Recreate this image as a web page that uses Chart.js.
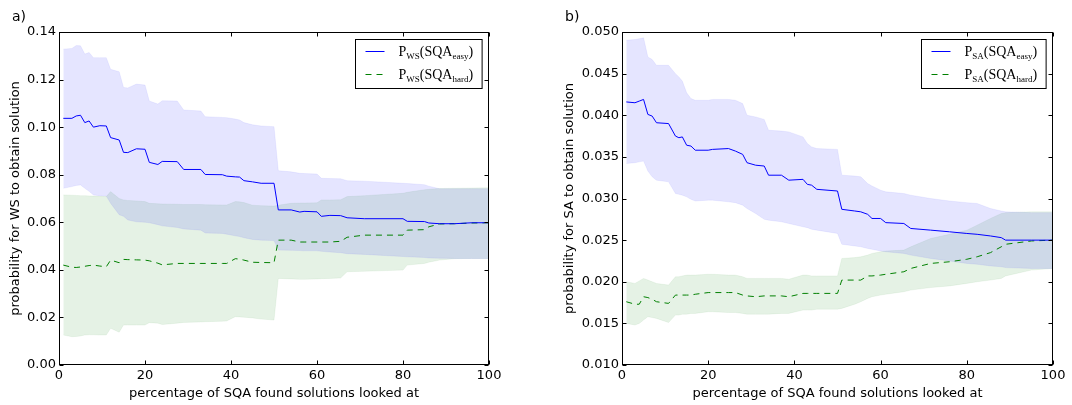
<!DOCTYPE html>
<html>
<head>
<meta charset="utf-8">
<script src="https://cdn.jsdelivr.net/npm/chart.js@4.4.1/dist/chart.umd.min.js"></script>
<style>
  body { margin: 0; background: #fff; }
  .panel { position: absolute; top: 0; width: 536px; height: 405px; }
</style>
</head>
<body>
<div class="panel" style="left:0"><canvas id="chartA" width="536" height="405"></canvas></div>
<div class="panel" style="left:536px"><canvas id="chartB" width="536" height="405"></canvas></div>
<script>
// ---- panel a) : WS ----
const xA = [1, 3, 4, 5, 6, 7, 8, 9.5, 11, 12, 14, 15, 16, 18, 20, 21, 23, 24, 27.5, 29,
    33, 34, 38, 39, 41, 42, 43, 45, 47, 50, 51, 54, 56, 57, 60, 61, 63, 65.5, 67, 71,
    80, 81, 85, 86, 88.5, 92, 96, 100];
const easyA = [0.1037, 0.1037, 0.1047, 0.1050, 0.1019, 0.1026, 0.1000, 0.1006, 0.1005, 0.0956,
    0.0946, 0.0894, 0.0893, 0.0909, 0.0907, 0.0852, 0.0843, 0.0856, 0.0855, 0.0822,
    0.0822, 0.0801, 0.0800, 0.0794, 0.0791, 0.0790, 0.0775, 0.0770, 0.0764, 0.0764,
    0.0652, 0.0652, 0.0643, 0.0646, 0.0644, 0.0625, 0.0629, 0.0628, 0.0619, 0.0615,
    0.0615, 0.0604, 0.0603, 0.0597, 0.0594, 0.0594, 0.0598, 0.0598];
const easyHiA = [0.1328, 0.1331, 0.1343, 0.1342, 0.1307, 0.1314, 0.1292, 0.1292, 0.1292, 0.1243,
    0.1233, 0.1167, 0.1165, 0.1181, 0.1177, 0.1110, 0.1097, 0.1111, 0.1110, 0.1072,
    0.1068, 0.1044, 0.1041, 0.1040, 0.1034, 0.1030, 0.1019, 0.1010, 0.1005, 0.1002,
    0.0817, 0.0812, 0.0806, 0.0805, 0.0803, 0.0785, 0.0784, 0.0783, 0.0775, 0.0773,
    0.0764, 0.0763, 0.0758, 0.0752, 0.0741, 0.0741, 0.0741, 0.0741];
const easyLoA = [0.0743, 0.0750, 0.0755, 0.0757, 0.0743, 0.0730, 0.0715, 0.0712, 0.0710, 0.0680,
    0.0632, 0.0625, 0.0610, 0.0602, 0.0600, 0.0598, 0.0590, 0.0585, 0.0578, 0.0572,
    0.0567, 0.0555, 0.0553, 0.0550, 0.0543, 0.0540, 0.0535, 0.0528, 0.0525, 0.0523,
    0.0483, 0.0482, 0.0481, 0.0480, 0.0480, 0.0478, 0.0475, 0.0472, 0.0468, 0.0465,
    0.0456, 0.0455, 0.0452, 0.0450, 0.0449, 0.0448, 0.0448, 0.0448];
const hardA = [0.0420, 0.0411, 0.0410, 0.0412, 0.0415, 0.0418, 0.0420, 0.0416, 0.0413, 0.0441,
    0.0430, 0.0444, 0.0443, 0.0442, 0.0441, 0.0438, 0.0428, 0.0421, 0.0427, 0.0427,
    0.0427, 0.0427, 0.0427, 0.0427, 0.0447, 0.0445, 0.0441, 0.0432, 0.0431, 0.0430,
    0.0525, 0.0525, 0.0517, 0.0517, 0.0517, 0.0517, 0.0517, 0.0520, 0.0537, 0.0546,
    0.0546, 0.0567, 0.0569, 0.0581, 0.0593, 0.0594, 0.0597, 0.0598];
const hardHiA = [0.0715, 0.0714, 0.0713, 0.0712, 0.0712, 0.0711, 0.0710, 0.0709, 0.0708, 0.0729,
    0.0700, 0.0694, 0.0692, 0.0690, 0.0687, 0.0680, 0.0678, 0.0677, 0.0676, 0.0675,
    0.0675, 0.0674, 0.0673, 0.0673, 0.0687, 0.0686, 0.0683, 0.0672, 0.0670, 0.0668,
    0.0672, 0.0680, 0.0681, 0.0681, 0.0682, 0.0694, 0.0694, 0.0695, 0.0708, 0.0712,
    0.0722, 0.0726, 0.0737, 0.0739, 0.0742, 0.0743, 0.0744, 0.0745];
const hardLoA = [0.0126, 0.0119, 0.0120, 0.0122, 0.0126, 0.0127, 0.0127, 0.0126, 0.0126, 0.0154,
    0.0138, 0.0168, 0.0168, 0.0168, 0.0168, 0.0178, 0.0176, 0.0170, 0.0176, 0.0179,
    0.0181, 0.0182, 0.0184, 0.0185, 0.0203, 0.0202, 0.0201, 0.0198, 0.0193, 0.0189,
    0.0364, 0.0362, 0.0360, 0.0360, 0.0362, 0.0363, 0.0364, 0.0366, 0.0392, 0.0394,
    0.0399, 0.0420, 0.0427, 0.0432, 0.0441, 0.0447, 0.0448, 0.0448];
const yTicksA = [0.00, 0.02, 0.04, 0.06, 0.08, 0.10, 0.12, 0.14];

// ---- panel b) : SA ----
const xB = [1, 3, 4, 5, 6, 7, 8, 10.8, 12.4, 13.2, 14, 15, 16, 17, 20, 21, 24.7, 26.3, 28, 29,
    31, 33, 34, 37, 38.7, 42, 43, 44, 45.2, 50, 51, 54, 55.4, 57, 58, 60, 61.2, 65.4, 67, 71.6,
    76, 80, 82.4, 85.5, 88, 89, 95, 100];
const easyB = [0.0416, 0.0415, 0.0417, 0.0419, 0.0401, 0.0399, 0.0391, 0.0390, 0.0375, 0.0373,
    0.0374, 0.0364, 0.0363, 0.0358, 0.0358, 0.0359, 0.0360, 0.0357, 0.0353, 0.0343,
    0.0340, 0.0339, 0.0328, 0.0328, 0.0322, 0.0323, 0.0317, 0.0316, 0.0311, 0.0309,
    0.0287, 0.0285, 0.0284, 0.0281, 0.0276, 0.0276, 0.0271, 0.0270, 0.0264, 0.0262,
    0.0260, 0.0258, 0.0257, 0.0255, 0.0253, 0.0250, 0.0250, 0.0250];
const easyHiB = [0.0490, 0.0491, 0.0492, 0.0493, 0.0470, 0.0467, 0.0460, 0.0460, 0.0450, 0.0446,
    0.0441, 0.0427, 0.0420, 0.0418, 0.0418, 0.0419, 0.0419, 0.0418, 0.0414, 0.0400,
    0.0398, 0.0395, 0.0382, 0.0381, 0.0380, 0.0374, 0.0366, 0.0362, 0.0360, 0.0359,
    0.0328, 0.0327, 0.0326, 0.0318, 0.0315, 0.0310, 0.0308, 0.0306, 0.0304, 0.0300,
    0.0297, 0.0295, 0.0294, 0.0288, 0.0285, 0.0284, 0.0283, 0.0283];
const easyLoB = [0.0342, 0.0343, 0.0344, 0.0345, 0.0333, 0.0326, 0.0322, 0.0320, 0.0306, 0.0305,
    0.0304, 0.0302, 0.0299, 0.0297, 0.0298, 0.0298, 0.0296, 0.0295, 0.0292, 0.0288,
    0.0282, 0.0275, 0.0274, 0.0272, 0.0270, 0.0266, 0.0265, 0.0263, 0.0262, 0.0258,
    0.0245, 0.0243, 0.0242, 0.0240, 0.0239, 0.0237, 0.0236, 0.0234, 0.0232, 0.0228,
    0.0225, 0.0222, 0.0221, 0.0219, 0.0218, 0.0217, 0.0216, 0.0216];
const hardB = [0.0176, 0.0173, 0.0173, 0.0182, 0.0181, 0.0179, 0.0176, 0.0174, 0.0184, 0.0184,
    0.0184, 0.0184, 0.0184, 0.0185, 0.0187, 0.0187, 0.0187, 0.0187, 0.0184, 0.0183,
    0.0182, 0.0183, 0.0183, 0.0183, 0.0182, 0.0186, 0.0186, 0.0186, 0.0186, 0.0186,
    0.0202, 0.0202, 0.0202, 0.0207, 0.0207, 0.0208, 0.0209, 0.0212, 0.0216, 0.0222,
    0.0224, 0.0227, 0.0230, 0.0235, 0.0242, 0.0245, 0.0249, 0.0250];
const hardHiB = [0.0200, 0.0198, 0.0201, 0.0204, 0.0202, 0.0200, 0.0198, 0.0196, 0.0206, 0.0206,
    0.0207, 0.0208, 0.0208, 0.0208, 0.0209, 0.0209, 0.0208, 0.0208, 0.0206, 0.0204,
    0.0204, 0.0204, 0.0204, 0.0204, 0.0203, 0.0208, 0.0208, 0.0207, 0.0207, 0.0207,
    0.0228, 0.0229, 0.0230, 0.0232, 0.0234, 0.0236, 0.0237, 0.0238, 0.0242, 0.0252,
    0.0257, 0.0262, 0.0268, 0.0276, 0.0282, 0.0283, 0.0284, 0.0284];
const hardLoB = [0.0150, 0.0148, 0.0150, 0.0154, 0.0158, 0.0157, 0.0156, 0.0151, 0.0160, 0.0160,
    0.0161, 0.0161, 0.0162, 0.0162, 0.0164, 0.0164, 0.0163, 0.0163, 0.0162, 0.0161,
    0.0161, 0.0161, 0.0161, 0.0162, 0.0162, 0.0166, 0.0166, 0.0166, 0.0167, 0.0167,
    0.0168, 0.0173, 0.0176, 0.0180, 0.0182, 0.0184, 0.0185, 0.0188, 0.0190, 0.0193,
    0.0195, 0.0198, 0.0200, 0.0202, 0.0204, 0.0207, 0.0214, 0.0216];
const yTicksB = [0.010, 0.015, 0.020, 0.025, 0.030, 0.035, 0.040, 0.045, 0.050];

const xTicks = [0, 20, 40, 60, 80, 100];
const xTitle = "percentage of SQA found solutions looked at";

const BLUE_FILL = "rgba(0, 0, 255, 0.1)";
const GREEN_FILL = "rgba(0, 128, 0, 0.1)";
const FONT = { family: "'DejaVu Sans', sans-serif", size: 13 };

const toPoints = (xs, ys) => xs.map((x, i) => ({ x: x, y: ys[i] }));

// texto con subindices al estilo mathtext
function drawRuns(ctx, runs, x, y) {
    runs.forEach(([text, sub]) => {
        ctx.font = sub ? "9px 'Liberation Serif', serif" : "14px 'Liberation Serif', serif";
        ctx.fillText(text, x, sub ? y + 3 : y);
        x += ctx.measureText(text).width;
    });
    return x;
}

// marco, ticks hacia dentro, letra del panel y leyenda
const mplFrame = {
    id: "mplFrame",
    afterDraw(chart, args, opts) {
        const { ctx, chartArea: a, scales } = chart;
        const L = Math.round(a.left) + 0.5, R = Math.round(a.right) - 0.5;
        const T = Math.round(a.top) + 0.5, B = Math.round(a.bottom) - 0.5;
        ctx.save();
        ctx.strokeStyle = "#000";
        ctx.lineWidth = 1;
        ctx.strokeRect(L, T, R - L, B - T);
        ctx.beginPath();
        scales.x.ticks.forEach(t => {
            const px = Math.round(scales.x.getPixelForValue(t.value)) + 0.5;
            ctx.moveTo(px, B); ctx.lineTo(px, B - 4);
            ctx.moveTo(px, T); ctx.lineTo(px, T + 4);
        });
        scales.y.ticks.forEach(t => {
            const py = Math.round(scales.y.getPixelForValue(t.value)) + 0.5;
            ctx.moveTo(L, py); ctx.lineTo(L + 4, py);
            ctx.moveTo(R, py); ctx.lineTo(R - 4, py);
        });
        ctx.stroke();

        ctx.fillStyle = "#000";
        ctx.font = "14px 'DejaVu Sans', sans-serif";
        ctx.textBaseline = "middle";
        ctx.fillText(opts.letter, opts.letterX, 17);

        // leyenda
        ctx.textBaseline = "alphabetic";
        let textW = 0;
        opts.entries.forEach(e => {
            textW = Math.max(textW, drawRuns({ set font(f) { ctx.font = f; }, fillText() {}, measureText: s => ctx.measureText(s) }, e.runs, 0, 0));
        });
        const w = 10 + 19 + 14 + textW + 9, h = 49;
        const x0 = Math.round(R - 7 - w) + 0.5, y0 = Math.round(T + 6);
        ctx.fillStyle = "#fff";
        ctx.fillRect(x0, y0, w, h);
        ctx.strokeStyle = "#000";
        ctx.strokeRect(x0, y0 + 0.5, w, h);
        opts.entries.forEach((e, i) => {
            const ly = y0 + 12.5 + i * 23;
            ctx.beginPath();
            ctx.strokeStyle = e.color;
            ctx.setLineDash(e.dash || []);
            ctx.moveTo(x0 + 10, ly);
            ctx.lineTo(x0 + 29, ly);
            ctx.stroke();
            ctx.setLineDash([]);
            ctx.fillStyle = "#000";
            drawRuns(ctx, e.runs, x0 + 43, y0 + 17 + i * 23);
        });
        ctx.restore();
    }
};

function makeChart(canvas, xs, s, cfg) {
    const band = (ys, color, fill) => ({
        data: toPoints(xs, ys), borderColor: color, borderWidth: 0.6,
        backgroundColor: color, fill: fill
    });
    new Chart(canvas, {
        type: "line",
        data: {
            datasets: [
                { data: toPoints(xs, s.easy), borderColor: "#0000ff", borderWidth: 1, fill: false },
                { data: toPoints(xs, s.hard), borderColor: "#008000", borderWidth: 1, borderDash: [6, 5], fill: false },
                band(s.easyHi, BLUE_FILL, "+1"),
                band(s.easyLo, BLUE_FILL, false),
                band(s.hardHi, GREEN_FILL, "+1"),
                band(s.hardLo, GREEN_FILL, false)
            ]
        },
        options: {
            responsive: false,
            animation: false,
            elements: { point: { radius: 0 }, line: { tension: 0 } },
            layout: { padding: cfg.padding },
            plugins: {
                legend: { display: false },
                tooltip: { enabled: false },
                mplFrame: { letter: cfg.letter, letterX: cfg.letterX, entries: cfg.entries }
            },
            scales: {
                x: {
                    type: "linear", min: 0, max: 100,
                    afterBuildTicks: sc => { sc.ticks = xTicks.map(v => ({ value: v })); },
                    afterFit: sc => { sc.height = 40; },
                    grid: { display: false, drawTicks: false },
                    border: { display: false },
                    ticks: { color: "#000", font: FONT, padding: 3, maxRotation: 0, callback: v => String(v) },
                    title: { display: true, text: xTitle, color: "#000", font: FONT, padding: { top: 0, bottom: 4 } }
                },
                y: {
                    type: "linear", min: cfg.yTicks[0], max: cfg.yTicks[cfg.yTicks.length - 1],
                    afterBuildTicks: sc => { sc.ticks = cfg.yTicks.map(v => ({ value: v })); },
                    afterFit: sc => { sc.width = cfg.yWidth; },
                    grid: { display: false, drawTicks: false },
                    border: { display: false },
                    ticks: { color: "#000", font: FONT, padding: 3, callback: v => v.toFixed(cfg.decimals) },
                    title: { display: true, text: cfg.yTitle, color: "#000", font: FONT, padding: { top: 8, bottom: 0 } }
                }
            }
        },
        plugins: [mplFrame]
    });
}

makeChart(document.getElementById("chartA"), xA,
    { easy: easyA, easyHi: easyHiA, easyLo: easyLoA, hard: hardA, hardHi: hardHiA, hardLo: hardLoA },
    {
        padding: { left: 0, top: 32, right: 47, bottom: 0 }, yWidth: 59, yTicks: yTicksA, decimals: 2,
        yTitle: "probability for WS to obtain solution", letter: "a)", letterX: 12,
        entries: [
            { color: "#0000ff", runs: [["P"], ["WS", 1], ["(SQA"], ["easy", 1], [")"]] },
            { color: "#008000", dash: [6, 5], runs: [["P"], ["WS", 1], ["(SQA"], ["hard", 1], [")"]] }
        ]
    });

makeChart(document.getElementById("chartB"), xB,
    { easy: easyB, easyHi: easyHiB, easyLo: easyLoB, hard: hardB, hardHi: hardHiB, hardLo: hardLoB },
    {
        padding: { left: 18, top: 32, right: 19, bottom: 0 }, yWidth: 68, yTicks: yTicksB, decimals: 3,
        yTitle: "probability for SA to obtain solution", letter: "b)", letterX: 29,
        entries: [
            { color: "#0000ff", runs: [["P"], ["SA", 1], ["(SQA"], ["easy", 1], [")"]] },
            { color: "#008000", dash: [6, 5], runs: [["P"], ["SA", 1], ["(SQA"], ["hard", 1], [")"]] }
        ]
    });
</script>
</body>
</html>
